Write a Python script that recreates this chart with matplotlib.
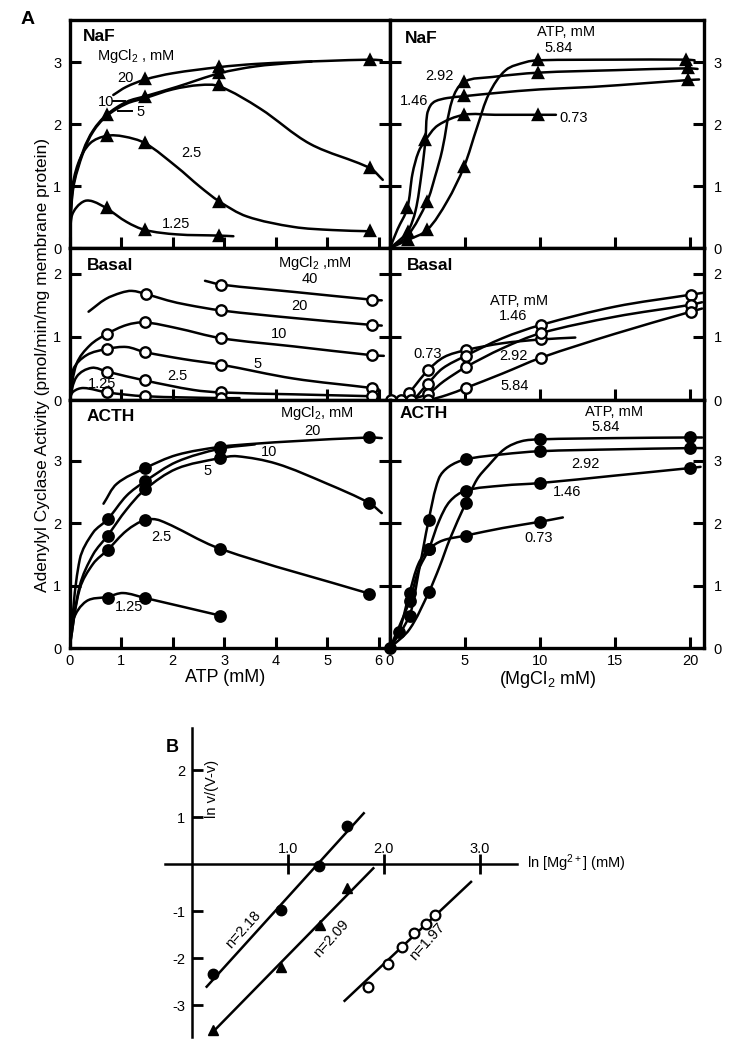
import numpy as np
import matplotlib.pyplot as plt
from matplotlib.path import Path
from matplotlib.patches import PathPatch

plt.rcParams['font.family'] = ['Liberation Sans', 'DejaVu Sans']
plt.rcParams['mathtext.fontset'] = 'custom'
plt.rcParams['mathtext.rm'] = 'Liberation Sans'
plt.rcParams['mathtext.it'] = 'Liberation Sans'
plt.rcParams['axes.unicode_minus'] = False

W, H = 744, 1050

# ---------------- panel A data ----------------
# NaF, activity vs ATP (mM) at several MgCl2 (mM); curve trace + measured points
naf_atp_lines = {
    '20':   ([0.85, 1.1, 1.47, 2.0, 2.91, 3.6, 4.35, 5.0, 5.83, 6.06],
             [2.47, 2.6, 2.72, 2.82, 2.92, 2.97, 3.0, 3.02, 3.04, 3.03]),
    '10':   ([0, 0.07, 0.27, 0.46, 0.72, 1.11, 1.47, 2.08, 2.91, 3.6, 4.35, 4.7],
             [0, 0.99, 1.58, 1.9, 2.15, 2.36, 2.45, 2.6, 2.82, 2.93, 2.99, 3.01]),
    '5':    ([0, 0.07, 0.27, 0.46, 0.72, 1.11, 1.47, 2.0, 2.53, 2.91, 3.7, 4.67, 5.83, 6.08],
             [0, 0.95, 1.55, 1.88, 2.13, 2.33, 2.42, 2.56, 2.63, 2.61, 2.25, 1.68, 1.29, 1.10]),
    '2.5':  ([0, 0.04, 0.17, 0.4, 0.72, 1.05, 1.47, 2.08, 2.53, 2.91, 3.44, 4.35, 5.1, 5.83],
             [0, 0.88, 1.37, 1.69, 1.81, 1.80, 1.69, 1.31, 0.99, 0.75, 0.51, 0.34, 0.29, 0.27]),
    '1.25': ([0, 0.04, 0.14, 0.3, 0.46, 0.72, 1.11, 1.47, 2.08, 2.91, 3.18],
             [0, 0.5, 0.66, 0.76, 0.75, 0.64, 0.42, 0.29, 0.22, 0.2, 0.19]),
}
naf_atp_pts = {
    '20':   ([1.47, 2.91, 5.83], [2.72, 2.92, 3.04]),
    '10':   ([0.72, 1.47, 2.91], [2.15, 2.44, 2.82]),
    '5':    ([2.91, 5.83], [2.63, 1.29]),
    '2.5':  ([0.72, 1.47, 2.91, 5.83], [1.81, 1.69, 0.75, 0.27]),
    '1.25': ([0.72, 1.47, 2.91], [0.64, 0.29, 0.2]),
}

# NaF, activity vs MgCl2 (mM) at several ATP (mM)
naf_mg_lines = {
    '0.73': ([0, 0.5, 1.15, 1.5, 1.9, 2.36, 3.2, 4.93, 7.0, 9.88, 11.06],
             [0, 0.3, 0.64, 1.2, 1.55, 1.74, 1.98, 2.15, 2.15, 2.15, 2.15]),
    '1.46': ([0, 0.6, 1.18, 1.7, 2.1, 2.36, 2.47, 2.7, 3.03, 3.8, 4.93, 7, 10, 13.5, 17, 19.86, 20.6],
             [0, 0.12, 0.26, 0.6, 1.2, 1.74, 2.15, 2.3, 2.37, 2.42, 2.45, 2.5, 2.56, 2.6, 2.66, 2.71, 2.72]),
    '2.92': ([0, 1.18, 2.47, 3.0, 3.48, 4.15, 4.93, 6.82, 9.88, 15, 19.86, 20.5],
             [0, 0.2, 0.75, 1.15, 1.58, 2.39, 2.68, 2.76, 2.83, 2.87, 2.9, 2.89]),
    '5.84': ([0, 1.2, 2.47, 3.8, 4.93, 5.82, 6.6, 7.71, 9.05, 9.88, 15, 19.75, 20.3],
             [0, 0.13, 0.29, 0.75, 1.31, 1.96, 2.49, 2.87, 3.0, 3.03, 3.04, 3.04, 3.03]),
}
naf_mg_pts = {
    '0.73': ([1.15, 2.36, 4.93, 9.88], [0.64, 1.74, 2.15, 2.15]),
    '1.46': ([1.18, 4.93, 19.86], [0.26, 2.45, 2.71]),
    '2.92': ([2.47, 4.93, 9.88, 19.86], [0.75, 2.68, 2.83, 2.9]),
    '5.84': ([1.2, 2.47, 4.93, 9.88, 19.75], [0.13, 0.29, 1.31, 3.03, 3.04]),
}

# Basal, activity vs ATP
bas_atp_lines = {
    '40':   ([2.63, 2.94, 4.4, 5.87, 6.06], [1.89, 1.83, 1.71, 1.59, 1.58]),
    '20':   ([0.37, 0.7, 1.0, 1.21, 1.49, 1.9, 2.28, 2.94, 4.35, 5.87, 6.06],
             [1.40, 1.60, 1.70, 1.73, 1.68, 1.58, 1.51, 1.42, 1.30, 1.19, 1.18]),
    '10':   ([0, 0.14, 0.4, 0.73, 1.11, 1.46, 2.08, 2.94, 4.35, 5.87, 6.1],
             [0, 0.58, 0.87, 1.05, 1.19, 1.23, 1.14, 0.98, 0.85, 0.71, 0.70]),
    '5':    ([0, 0.07, 0.33, 0.73, 1.11, 1.46, 2.2, 2.94, 4.35, 5.87, 6.0],
             [0, 0.48, 0.71, 0.81, 0.84, 0.76, 0.65, 0.56, 0.34, 0.19, 0.17]),
    '2.5':  ([0, 0.14, 0.43, 0.73, 1.46, 2.4, 2.94, 4.35, 5.87],
             [0, 0.37, 0.51, 0.45, 0.31, 0.16, 0.12, 0.09, 0.06]),
    '1.25': ([0, 0.07, 0.27, 0.73, 1.46, 2.94, 3.3],
             [0, 0.13, 0.19, 0.12, 0.06, 0.03, 0.03]),
}
bas_atp_pts = {
    '40':   ([2.94, 5.87], [1.83, 1.59]),
    '20':   ([1.49, 2.94, 5.87], [1.68, 1.42, 1.19]),
    '10':   ([0.73, 1.46, 2.94, 5.87], [1.05, 1.23, 0.98, 0.71]),
    '5':    ([0.73, 1.46, 2.94, 5.87], [0.81, 0.76, 0.56, 0.19]),
    '2.5':  ([0.73, 1.46, 2.94, 5.87], [0.45, 0.31, 0.12, 0.06]),
    '1.25': ([0.73, 1.46, 2.94], [0.12, 0.06, 0.03]),
}

# Basal, activity vs MgCl2
bas_mg_lines = {
    '0.73': ([0, 0.7, 1.25, 2.52, 3.6, 5.04, 7.5, 10.06, 12.35],
             [0, 0.0, 0.11, 0.47, 0.68, 0.79, 0.9, 0.96, 0.99]),
    '1.46': ([0, 1.4, 2.52, 3.5, 5.04, 7.5, 10.06, 15, 20.05, 20.9],
             [0, 0.0, 0.26, 0.5, 0.70, 0.98, 1.19, 1.48, 1.67, 1.70]),
    '2.92': ([0, 1.4, 2.52, 3.6, 5.04, 7.5, 10.06, 15, 20.05, 20.8],
             [0, 0.02, 0.1, 0.3, 0.52, 0.82, 1.06, 1.32, 1.51, 1.55]),
    '5.84': ([1.4, 2.52, 3.8, 5.04, 7.5, 10.06, 15, 20.05, 20.8],
             [0, 0.0, 0.08, 0.19, 0.42, 0.67, 1.05, 1.40, 1.45]),
}
bas_mg_pts = {
    '0.73': ([0.7, 1.25, 2.52, 5.04, 10.06], [0, 0.11, 0.47, 0.79, 0.96]),
    '1.46': ([1.4, 2.52, 5.04, 10.06, 20.05], [0, 0.26, 0.70, 1.19, 1.67]),
    '2.92': ([0.07, 2.52, 5.04, 10.06, 20.05], [0, 0.1, 0.52, 1.06, 1.51]),
    '5.84': ([2.52, 5.04, 10.06, 20.05], [0, 0.19, 0.67, 1.40]),
}

# ACTH, activity vs ATP
acth_atp_lines = {
    '20':   ([0.66, 0.92, 1.47, 2.08, 2.92, 3.6, 4.35, 5.82, 6.06],
             [2.31, 2.63, 2.88, 3.09, 3.22, 3.27, 3.31, 3.37, 3.36]),
    '10':   ([0, 0.2, 0.46, 0.74, 1.11, 1.47, 2.08, 2.92, 3.6],
             [0, 1.42, 1.85, 2.06, 2.44, 2.67, 2.98, 3.19, 3.26]),
    '5':    ([0, 0.2, 0.46, 0.74, 1.11, 1.47, 2.08, 2.92, 3.25, 4.02, 5.0, 5.82, 6.06],
             [0, 1.0, 1.5, 1.80, 2.22, 2.54, 2.87, 3.04, 3.07, 2.95, 2.63, 2.32, 2.16]),
    '2.5':  ([0, 0.2, 0.46, 0.74, 1.11, 1.47, 1.76, 2.92, 5.82],
             [0, 0.95, 1.35, 1.57, 1.88, 2.05, 2.04, 1.59, 0.87]),
    '1.25': ([0, 0.07, 0.33, 0.74, 1.04, 1.47, 2.92],
             [0, 0.45, 0.75, 0.82, 0.88, 0.80, 0.52]),
}
acth_atp_pts = {
    '20':   ([1.47, 2.92, 5.82], [2.88, 3.22, 3.37]),
    '10':   ([0.74, 1.47, 2.92], [2.06, 2.67, 3.19]),
    '5':    ([0.74, 1.47, 2.92, 5.82], [1.80, 2.54, 3.04, 2.32]),
    '2.5':  ([0.74, 1.47, 2.92, 5.82], [1.57, 2.05, 1.59, 0.87]),
    '1.25': ([0.74, 1.47, 2.92], [0.80, 0.80, 0.52]),
}

# ACTH, activity vs MgCl2
acth_mg_lines = {
    '0.73': ([0, 0.6, 1.3, 1.9, 2.58, 3.5, 5.05, 7.5, 9.98, 11.52],
             [0, 0.26, 0.88, 1.35, 1.58, 1.72, 1.80, 1.92, 2.02, 2.09]),
    '1.46': ([0, 1.3, 1.9, 2.58, 3.3, 4.0, 5.05, 7.5, 9.98, 15, 19.98, 20.7],
             [0, 0.75, 1.25, 1.58, 2.05, 2.35, 2.52, 2.6, 2.64, 2.76, 2.88, 2.9]),
    '2.92': ([0, 1.3, 1.9, 2.58, 3.25, 3.91, 5.05, 7.5, 9.98, 15, 19.98, 20.9],
             [0, 0.52, 1.2, 2.05, 2.71, 2.9, 3.02, 3.1, 3.15, 3.18, 3.2, 3.2]),
    '5.84': ([0, 1.3, 2.58, 3.3, 4.0, 5.05, 5.8, 6.56, 7.66, 8.76, 9.98, 15, 19.98, 20.8],
             [0, 0.3, 0.89, 1.3, 1.75, 2.32, 2.7, 2.92, 3.19, 3.31, 3.34, 3.36, 3.37, 3.37]),
}
acth_mg_pts = {
    '0.73': ([0, 0.6, 1.3, 2.58, 5.05, 9.98], [0, 0.26, 0.88, 1.58, 1.80, 2.02]),
    '1.46': ([1.3, 2.58, 5.05, 9.98, 19.98], [0.75, 1.58, 2.52, 2.64, 2.88]),
    '2.92': ([1.3, 2.58, 5.05, 9.98, 19.98], [0.52, 2.05, 3.02, 3.15, 3.20]),
    '5.84': ([2.58, 5.05, 9.98, 19.98], [0.89, 2.32, 3.34, 3.37]),
}

# ---------------- panel B data (Hill plot) ----------------
hill_acth_x = [0.22, 0.93, 1.32, 1.61]
hill_acth_y = [-2.33, -0.98, -0.04, 0.81]
hill_acth_fit_x = [0.15, 1.79]
hill_acth_fit_y = [-2.61, 1.08]
hill_naf_x = [0.22, 0.93, 1.33, 1.61]
hill_naf_y = [-3.53, -2.19, -1.30, -0.52]
hill_naf_fit_x = [0.25, 1.89]
hill_naf_fit_y = [-3.5, -0.09]
hill_bas_x = [1.83, 2.04, 2.19, 2.31, 2.44, 2.53]
hill_bas_y = [-2.62, -2.13, -1.76, -1.47, -1.28, -1.09]
hill_bas_fit_x = [1.59, 2.91]
hill_bas_fit_y = [-2.91, -0.38]


fig = plt.figure(figsize=(W / 100, H / 100), dpi=100)


def px_axes(x0, y0, x1, y1):
    # axes box given in figure pixels (origin top-left)
    return fig.add_axes([x0 / W, 1 - y1 / H, (x1 - x0) / W, (y1 - y0) / H])


def smooth_line(ax, xs, ys, lw=1.8):
    # hand-drawn style curve through the read points (cubic bezier joins)
    x0, x1 = ax.get_xlim()
    y0, y1 = ax.get_ylim()
    bb = ax.get_position()
    sx = bb.width * W / (x1 - x0)
    sy = bb.height * H / (y1 - y0)
    P = np.column_stack([np.asarray(xs, float) * sx, np.asarray(ys, float) * sy])
    n = len(P)
    tang = np.zeros_like(P)
    for i in range(n):
        d = P[min(i + 1, n - 1)] - P[max(i - 1, 0)]
        nrm = np.hypot(d[0], d[1])
        if nrm > 0:
            tang[i] = d / nrm
    verts = [P[0]]
    codes = [Path.MOVETO]
    for i in range(n - 1):
        L = np.hypot(*(P[i + 1] - P[i]))
        verts += [P[i] + tang[i] * L / 3, P[i + 1] - tang[i + 1] * L / 3, P[i + 1]]
        codes += [Path.CURVE4] * 3
    V = np.array(verts) / [sx, sy]
    ax.add_patch(PathPatch(Path(V, codes), fill=False, lw=lw, ec='black',
                           capstyle='round', joinstyle='round', zorder=2))


def draw_series(ax, lines, pts, marker, filled=True):
    for key in lines:
        smooth_line(ax, *lines[key])
    for key in pts:
        px, py = pts[key]
        ax.plot(px, py, ls='none', marker=marker, ms=7.5,
                mfc='black' if filled else 'white', mec='black', mew=1.7,
                clip_on=False, zorder=3)


def setup(ax, xlim, ylim, xticks, yticks, side, xlabels):
    ax.set_xlim(xlim)
    ax.set_ylim(ylim)
    ax.set_xticks(xticks)
    ax.set_yticks(yticks)
    for s in ax.spines.values():
        s.set_linewidth(2.4)
    ax.tick_params(axis='both', direction='in', width=2.2, length=8, labelsize=10.5)
    ax.tick_params(axis='x', top=False, bottom=True, labelbottom=xlabels, pad=4)
    if side == 'left':
        ax.tick_params(axis='y', left=True, right=True, labelleft=True, labelright=False, pad=6)
    else:
        ax.tick_params(axis='y', left=True, right=True, labelleft=False, labelright=True, pad=7)


# pixel layout of panel A
XL0, XM, XR1 = 69.5, 390, 704
rows = [(20, 248, (0, 3.68), [0, 1, 2, 3]),
        (248, 400, (0, 2.41), [0, 1, 2]),
        (400, 648, (0, 3.97), [0, 1, 2, 3])]
atp_xlim = (0, 6.22)
mg_xlim = (0, 20.93)
atp_ticks = [0, 1, 2, 3, 4, 5, 6]
mg_ticks = [0, 5, 10, 15, 20]

axes = []
for r, (top, bot, ylim, yt) in enumerate(rows):
    axl = px_axes(XL0, top, XM, bot)
    axr = px_axes(XM, top, XR1, bot)
    setup(axl, atp_xlim, ylim, atp_ticks, yt, 'left', r == 2)
    setup(axr, mg_xlim, ylim, mg_ticks, yt, 'right', r == 2)
    axes.append((axl, axr))

TXT = 10.5
BOLD = 12.5

# --- NaF row
ax, ax2 = axes[0]
draw_series(ax, naf_atp_lines, naf_atp_pts, '^')
draw_series(ax2, naf_mg_lines, naf_mg_pts, '^')
ax.text(0.26, 3.41, 'NaF', fontsize=BOLD, fontweight='bold', va='center')
ax.text(0.53, 3.1, 'MgCl$_2$ , mM', fontsize=TXT, va='center')
ax.text(1.08, 2.75, '20', fontsize=TXT, ha='center', va='center')
ax.text(0.70, 2.36, '10', fontsize=TXT, ha='center', va='center')
ax.plot([0.85, 1.08], [2.37, 2.37], color='k', lw=1.4)
ax.text(1.37, 2.19, '5', fontsize=TXT, ha='center', va='center')
ax.plot([0.94, 1.21], [2.21, 2.21], color='k', lw=1.4)
ax.text(2.36, 1.54, '2.5', fontsize=TXT, ha='center', va='center')
ax.text(2.07, 0.39, '1.25', fontsize=TXT, ha='center', va='center')
ax2.text(1.0, 3.38, 'NaF', fontsize=BOLD, fontweight='bold', va='center')
ax2.text(11.73, 3.48, 'ATP, mM', fontsize=TXT, ha='center', va='center')
ax2.text(11.27, 3.23, '5.84', fontsize=TXT, ha='center', va='center')
ax2.text(3.27, 2.77, '2.92', fontsize=TXT, ha='center', va='center')
ax2.text(1.6, 2.37, '1.46', fontsize=TXT, ha='center', va='center')
ax2.text(12.27, 2.10, '0.73', fontsize=TXT, ha='center', va='center')

# --- Basal row
ax, ax2 = axes[1]
draw_series(ax, bas_atp_lines, bas_atp_pts, 'o', filled=False)
draw_series(ax2, bas_mg_lines, bas_mg_pts, 'o', filled=False)
ax.text(0.34, 2.14, 'Basal', fontsize=BOLD, fontweight='bold', va='center')
ax.text(4.05, 2.17, 'MgCl$_2$ ,mM', fontsize=TXT, va='center')
ax.text(4.67, 1.92, '40', fontsize=TXT, ha='center', va='center')
ax.text(4.46, 1.49, '20', fontsize=TXT, ha='center', va='center')
ax.text(4.07, 1.05, '10', fontsize=TXT, ha='center', va='center')
ax.text(3.64, 0.57, '5', fontsize=TXT, ha='center', va='center')
ax.text(2.10, 0.38, '2.5', fontsize=TXT, ha='center', va='center')
ax.text(0.64, 0.25, '1.25', fontsize=TXT, ha='center', va='center')
ax2.text(1.13, 2.14, 'Basal', fontsize=BOLD, fontweight='bold', va='center')
ax2.text(8.57, 1.57, 'ATP, mM', fontsize=TXT, ha='center', va='center')
ax2.text(8.17, 1.33, '1.46', fontsize=TXT, ha='center', va='center')
ax2.text(2.53, 0.73, '0.73', fontsize=TXT, ha='center', va='center')
ax2.text(8.2, 0.70, '2.92', fontsize=TXT, ha='center', va='center')
ax2.text(8.3, 0.22, '5.84', fontsize=TXT, ha='center', va='center')

# --- ACTH row
ax, ax2 = axes[2]
draw_series(ax, acth_atp_lines, acth_atp_pts, 'o')
draw_series(ax2, acth_mg_lines, acth_mg_pts, 'o')
ax.text(0.34, 3.70, 'ACTH', fontsize=BOLD, fontweight='bold', va='center')
ax.text(4.09, 3.76, 'MgCl$_2$, mM', fontsize=TXT, va='center')
ax.text(4.72, 3.48, '20', fontsize=TXT, ha='center', va='center')
ax.text(3.88, 3.14, '10', fontsize=TXT, ha='center', va='center')
ax.text(2.68, 2.84, '5', fontsize=TXT, ha='center', va='center')
ax.text(1.78, 1.78, '2.5', fontsize=TXT, ha='center', va='center')
ax.text(1.16, 0.65, '1.25', fontsize=TXT, ha='center', va='center')
ax2.text(0.67, 3.75, 'ACTH', fontsize=BOLD, fontweight='bold', va='center')
ax2.text(14.93, 3.77, 'ATP, mM', fontsize=TXT, ha='center', va='center')
ax2.text(14.4, 3.53, '5.84', fontsize=TXT, ha='center', va='center')
ax2.text(13.0, 2.94, '2.92', fontsize=TXT, ha='center', va='center')
ax2.text(11.83, 2.5, '1.46', fontsize=TXT, ha='center', va='center')
ax2.text(9.93, 1.76, '0.73', fontsize=TXT, ha='center', va='center')

# shared labels for panel A
fig.text(28 / W, 1 - 20 / H, 'A', fontsize=14, fontweight='bold', ha='center', va='center')
fig.text(43 / W, 1 - 365 / H, 'Adenylyl Cyclase Activity (pmol/min/mg membrane protein)',
         rotation=90, fontsize=12.5, ha='center', va='center')
fig.text(225 / W, 1 - 677 / H, 'ATP (mM)', fontsize=13, ha='center', va='center')
fig.text(548 / W, 1 - 679 / H, '(MgCl$_2$ mM)', fontsize=13, ha='center', va='center')

# ---------------- panel B ----------------
axb = px_axes(165, 728, 517, 1037)
axb.set_xlim(-0.285, 3.39)
axb.set_ylim(-3.68, 2.894)
axb.spines['left'].set_position(('data', 0))
axb.spines['top'].set_position(('data', 0))
axb.spines['bottom'].set_visible(False)
axb.spines['right'].set_visible(False)
for s in ('left', 'top'):
    axb.spines[s].set_linewidth(1.8)
axb.xaxis.set_ticks_position('top')
axb.yaxis.set_ticks_position('left')
axb.set_xticks([1, 2, 3])
axb.set_xticklabels(['1.0', '2.0', '3.0'])
axb.set_yticks([-3, -2, -1, 1, 2])
axb.set_yticklabels(['-3', '-2', '-1', '1', '2'])
axb.tick_params(axis='x', direction='inout', length=14, width=2, labelsize=10.5, pad=-1)
axb.tick_params(axis='y', direction='in', length=8, width=2, labelsize=10.5, pad=5)
axb.patch.set_visible(False)

axb.plot(hill_acth_fit_x, hill_acth_fit_y, color='k', lw=1.8)
axb.plot(hill_acth_x, hill_acth_y, ls='none', marker='o', ms=7.5, color='k', clip_on=False)
axb.plot(hill_naf_fit_x, hill_naf_fit_y, color='k', lw=1.8)
axb.plot(hill_naf_x, hill_naf_y, ls='none', marker='^', ms=7.5, color='k', clip_on=False)
axb.plot(hill_bas_fit_x, hill_bas_fit_y, color='k', lw=1.8)
axb.plot(hill_bas_x, hill_bas_y, ls='none', marker='o', ms=7, mfc='white', mec='k',
         mew=1.6, clip_on=False)

axb.text(0.53, -1.40, 'n=2.18', rotation=48, fontsize=10.5, ha='center', va='center')
axb.text(1.455, -1.58, 'n=2.09', rotation=48, fontsize=10.5, ha='center', va='center')
axb.text(2.45, -1.65, 'n=1.97', rotation=48, fontsize=10.5, ha='center', va='center')
axb.text(0.21, 1.6, 'ln v/(V-v)', rotation=90, fontsize=10.5, ha='center', va='center')
fig.text(527 / W, 1 - 863 / H, 'ln [Mg$^{2+}$] (mM)', fontsize=10.5, ha='left', va='center')
fig.text(172 / W, 1 - 748 / H, 'B', fontsize=13, fontweight='bold', ha='center', va='center')

fig.savefig('out.png', dpi=100)
